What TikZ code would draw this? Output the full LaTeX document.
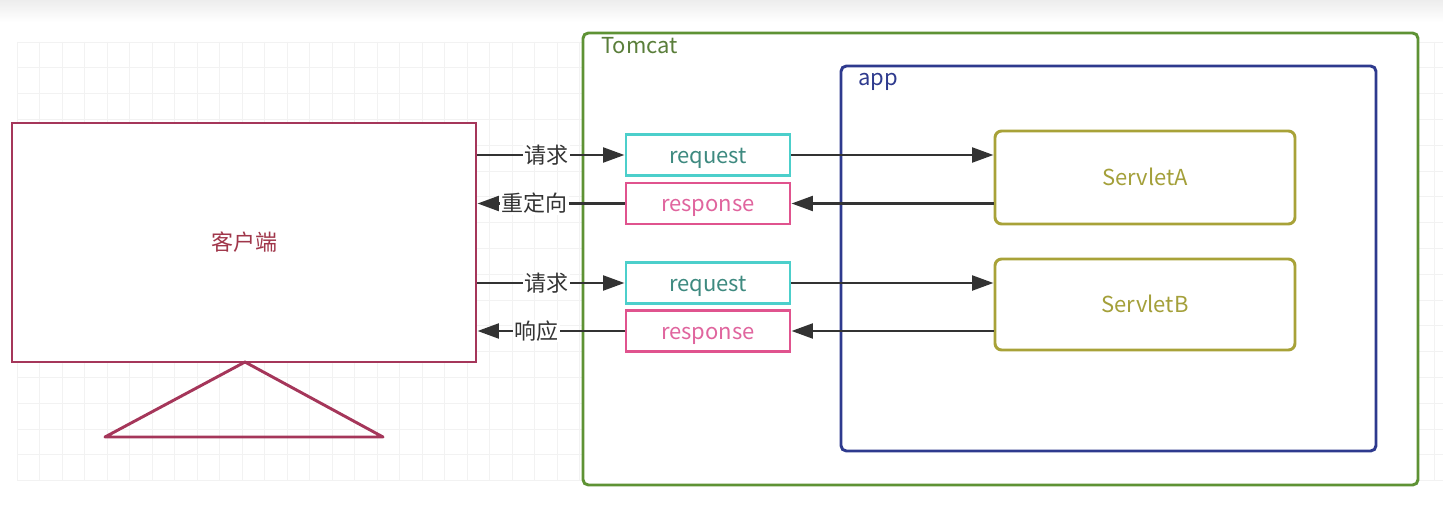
\documentclass[tikz,border=0pt]{standalone}
\usepackage{fontspec}
\setmainfont{Noto Sans CJK SC}
\usetikzlibrary{arrows.meta}
\definecolor{clientc}{HTML}{A5365A}
\definecolor{clienttxt}{HTML}{A0364A}
\definecolor{tomcatc}{HTML}{5E9234}
\definecolor{tomcattxt}{HTML}{5A7E3A}
\definecolor{appc}{HTML}{2E3A8E}
\definecolor{reqc}{HTML}{4CCFCB}
\definecolor{reqtxt}{HTML}{3E8A80}
\definecolor{respc}{HTML}{E0538E}
\definecolor{resptxt}{HTML}{E0659E}
\definecolor{servc}{HTML}{A8A238}
\definecolor{servtxt}{HTML}{A4A03A}
\definecolor{arrc}{HTML}{333333}
\tikzset{
  txt/.style={font=\fontsize{16.5pt}{18pt}\selectfont, text height=13.5pt, text depth=1pt},
  box/.style={draw, line width=2.2pt, fill=white, inner sep=0pt, txt},
  frame/.style={draw, line width=2.2pt, rounded corners=4pt, inner sep=0pt},
  reqbox/.style={box, draw=reqc, text=reqtxt, minimum width={164*0.75pt}, minimum height={41*0.75pt}},
  respbox/.style={box, draw=respc, text=resptxt, minimum width={164*0.75pt}, minimum height={41*0.75pt}},
  servbox/.style={box, draw=servc, text=servtxt, rounded corners=5pt, minimum width={300*0.75pt}},
  arr/.style={draw=arrc, line width=2.2pt, -{Triangle[length=16pt,width=11pt]}},
  lbl/.style={fill=white, text=arrc, inner sep=1pt, txt},
  title/.style={anchor=base west, inner sep=0pt, font=\fontsize{16.5pt}{18pt}\selectfont},
}
\begin{document}
\begin{tikzpicture}[x=0.75pt,y=-0.75pt]
  \useasboundingbox (0,0) rectangle (1443,517);
  \fill[white] (0,0) rectangle (1443,517);
  % soft band along the top edge
  \shade[top color=gray!14, bottom color=white] (0,0) rectangle (1443,22);
  % faint background grid
  \foreach \i in {0,...,63} {
    \draw[gray!10, line width=0.6pt] ({17+22.5*\i},42) -- ({17+22.5*\i},480);
  }
  \foreach \j in {0,...,17} {
    \draw[gray!10, line width=0.6pt] (17,{42+25.8*\j}) -- (1443,{42+25.8*\j});
  }

  % containers
  \node[frame, draw=tomcatc, fill=white, minimum width={835*0.75pt}, minimum height={452*0.75pt}] (tomcat) at (1000.5,259) {};
  \node[title, text=tomcattxt] (tomcatlbl) at (601,54) {Tomcat};
  \node[frame, draw=appc, minimum width={535*0.75pt}, minimum height={385*0.75pt}] (app) at (1108.5,258.5) {};
  \node[title, text=appc] (applbl) at (858,86) {app};

  % client monitor
  \node[box, draw=clientc, text=clienttxt, minimum width={464*0.75pt}, minimum height={239*0.75pt}] (client) at (244,242.5) {客户端};
  \coordinate (apex) at (245,362);
  \coordinate (baseL) at (105,437);
  \coordinate (baseR) at (383,437);
  \draw[clientc, line width=2.2pt, line join=round] (apex) -- (baseR) -- (baseL) -- cycle;

  % request / response objects
  \node[reqbox] (req1) at (708,155) {request};
  \node[respbox] (resp1) at (708,203.5) {response};
  \node[reqbox] (req2) at (708,283) {request};
  \node[respbox] (resp2) at (708,331) {response};

  % servlets
  \node[servbox, minimum height={93*0.75pt}] (servA) at (1145,177.5) {ServletA};
  \node[servbox, minimum height={91*0.75pt}] (servB) at (1145,304.5) {ServletB};

  % client <-> tomcat
  \draw[arr] (client.east |- req1.west) -- node[lbl, pos=0.47]{请求} (req1.west);
  \draw[arr] (resp1.west) -- node[lbl, pos=0.61]{重定向} (client.east |- resp1.west);
  \draw[arr] (client.east |- req2.west) -- node[lbl, pos=0.47]{请求} (req2.west);
  \draw[arr] (resp2.west) -- node[lbl, pos=0.6]{响应} (client.east |- resp2.west);

  % tomcat <-> servlets
  \draw[arr] (req1.east) -- (req1.east -| servA.west);
  \draw[arr] (servA.west |- resp1.east) -- (resp1.east);
  \draw[arr] (req2.east) -- (req2.east -| servB.west);
  \draw[arr] (servB.west |- resp2.east) -- (resp2.east);
\end{tikzpicture}
\end{document}
